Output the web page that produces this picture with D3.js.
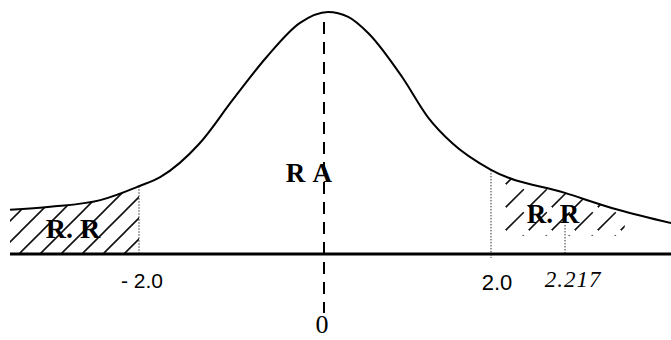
<!DOCTYPE html>
<html>
<head>
<meta charset="utf-8">
<script src="https://cdn.jsdelivr.net/npm/d3@7"></script>
<style>
  html, body { margin: 0; padding: 0; background: #fff; }
  svg { display: block; }
</style>
</head>
<body>
<script>
// ---- data ----
const curveX = [-3.6, -3.1, -2.48, -2.0, -1.77, -1.34, -0.98, -0.61, -0.25, 0.06, 0.3, 0.54, 0.94, 1.25, 1.54, 2.0, 2.217, 2.86, 3.5];
const curveY = [0.073, 0.078, 0.089, 0.112, 0.127, 0.183, 0.255, 0.326, 0.382, 0.400, 0.392, 0.365, 0.293, 0.226, 0.183, 0.139, 0.101, 0.073, 0.051];
const criticalValues = [-2.0, 2.0];
const observedValue = 2.217;
const tickLabels = ["- 2.0", "2.0", "2.217"];
const centerValue = 0;
const regionLabels = ["R. R", "R A", "R. R"];

// ---- layout ----
const W = 671, H = 340;
const svg = d3.select("body").append("svg").attr("width", W).attr("height", H);

// schematic (polylinear) horizontal scale, as drawn in the figure
const x = d3.scaleLinear()
  .domain([-3.6, -2, 0, 2, 2.217, 3.5])
  .range([10, 139, 323, 491, 565, 671]);
const y = d3.scaleLinear().domain([0, 0.4]).range([254, 12]);

const pts = curveX.map((v, i) => [v, curveY[i]]);
const line = d3.line().x(d => x(d[0])).y(d => y(d[1])).curve(d3.curveMonotoneX);
const area = d3.area().x(d => x(d[0])).y0(y(0)).y1(d => y(d[1])).curve(d3.curveMonotoneX);

const defs = svg.append("defs");
const mkPattern = (id, step, dash) => {
  const p = defs.append("pattern").attr("id", id)
    .attr("patternUnits", "userSpaceOnUse").attr("width", step).attr("height", step);
  p.append("path").attr("d", `M-2,${step + 2} L${step + 2},-2 M-${step / 2 + 2},${step / 2 + 2} L${step / 2 + 2},-${step / 2 + 2} M${step / 2 - 2},${step * 1.5 + 2} L${step * 1.5 + 2},${step / 2 - 2}`)
    .attr("stroke", "#111").attr("stroke-width", 1.6)
    .attr("stroke-dasharray", dash);
};
mkPattern("hatch", 21, null);
mkPattern("hatchR", 23, "28,8");

defs.append("clipPath").attr("id", "under").append("path").attr("d", area(pts));
defs.append("clipPath").attr("id", "leftBox").append("rect")
  .attr("x", x(-3.6)).attr("y", 0).attr("width", x(criticalValues[0]) - x(-3.6)).attr("height", y(0));
defs.append("clipPath").attr("id", "rightBox").append("rect")
  .attr("x", x(2.04)).attr("y", 0).attr("width", x(2.94) - x(2.04)).attr("height", y(0.03));

// hatched rejection regions
svg.append("g").attr("clip-path", "url(#leftBox)")
  .append("g").attr("clip-path", "url(#under)")
  .append("rect").attr("x", 0).attr("y", 0).attr("width", W).attr("height", H).attr("fill", "url(#hatch)");
svg.append("g").attr("clip-path", "url(#rightBox)")
  .append("g").attr("clip-path", "url(#under)")
  .append("rect").attr("x", 0).attr("y", 0).attr("width", W).attr("height", H).attr("fill", "url(#hatchR)");

// dotted verticals at critical values
const dotted = (v, y0px, y1px) => svg.append("line")
  .attr("x1", x(v)).attr("x2", x(v)).attr("y1", y0px).attr("y2", y1px)
  .attr("stroke", "#333").attr("stroke-width", 1).attr("stroke-dasharray", "1.5,1.5");
const interp = v => {
  for (let i = 0; i < curveX.length - 1; i++) {
    if (v >= curveX[i] && v <= curveX[i + 1]) {
      const t = (v - curveX[i]) / (curveX[i + 1] - curveX[i]);
      return curveY[i] + t * (curveY[i + 1] - curveY[i]);
    }
  }
  return 0;
};
dotted(criticalValues[0], y(interp(criticalValues[0])), y(0));
dotted(criticalValues[1], y(interp(criticalValues[1])), y(0) + 4);
dotted(observedValue, y(0.048), y(0));

// curve
svg.append("path").attr("d", line(pts)).attr("fill", "none")
  .attr("stroke", "#000").attr("stroke-width", 2);

// baseline axis
svg.append("line").attr("x1", x(-3.6)).attr("x2", x(3.5)).attr("y1", y(0)).attr("y2", y(0))
  .attr("stroke", "#000").attr("stroke-width", 3);

// dashed centre line
svg.append("line").attr("x1", x(centerValue) + 1).attr("x2", x(centerValue) + 1)
  .attr("y1", 22).attr("y2", 313)
  .attr("stroke", "#000").attr("stroke-width", 2).attr("stroke-dasharray", "12,8");

// tick labels
const sans = "Liberation Sans, Arial, sans-serif";
const serif = "Liberation Serif, Times New Roman, serif";
svg.append("text").attr("x", 142).attr("y", 288)
  .attr("text-anchor", "middle").attr("font-family", sans)
  .attr("font-size", 21).text(tickLabels[0]);
svg.append("text").attr("x", x(criticalValues[1]) + 6).attr("y", 290)
  .attr("text-anchor", "middle").attr("font-family", sans)
  .attr("font-size", 22).text(tickLabels[1]);
svg.append("text").attr("x", x(observedValue) + 8).attr("y", 287)
  .attr("text-anchor", "middle").attr("font-family", serif)
  .attr("font-style", "italic").attr("font-size", 23).attr("letter-spacing", 1).text(tickLabels[2]);
svg.append("text").attr("x", x(centerValue) - 1).attr("y", 333)
  .attr("text-anchor", "middle").attr("font-family", serif)
  .attr("font-size", 26).text(String(centerValue));

// region labels
svg.append("text").attr("x", 73).attr("y", 238).attr("text-anchor", "middle")
  .attr("font-family", serif).attr("font-weight", "bold").attr("font-size", 28).text(regionLabels[0]);
svg.append("text").attr("x", 309).attr("y", 182).attr("text-anchor", "middle")
  .attr("font-family", serif).attr("font-weight", "bold").attr("font-size", 27).attr("word-spacing", 2).text(regionLabels[1]);
svg.append("text").attr("x", 553).attr("y", 223).attr("text-anchor", "middle")
  .attr("font-family", serif).attr("font-weight", "bold").attr("font-size", 27).text(regionLabels[2]);
</script>
</body>
</html>
